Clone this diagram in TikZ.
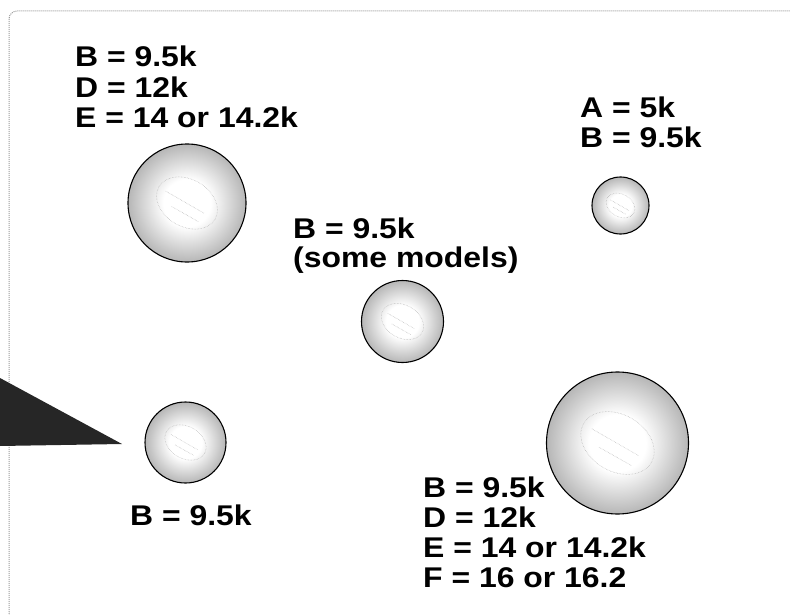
\documentclass[tikz,border=0pt]{standalone}
\usepackage{fontspec}
\setmainfont{Liberation Sans}[FakeStretch=1.12]
\pgfdeclareradialshading{ballshade}{\pgfpoint{0bp}{0bp}}{color(0bp)=(white); color(10bp)=(white); color(30bp)=(black!38); color(50bp)=(black!42)}
\newcommand\ballmarks[2]{%
  \begin{scope}[shift={(#1.center)},scale=#2]
    \draw[marks] (0,0) ellipse[x radius=0.55, y radius=0.4, rotate=-30];
    \draw[marks] (-0.36,-0.2) -- (0.3,0.18);
    \draw[marks] (-0.26,0.06) -- (0.2,0.32);
  \end{scope}}
\begin{document}
\begin{tikzpicture}[x=1pt,y=-1pt,
  ball/.style={circle, draw=black, line width=1.1pt, shading=ballshade, inner sep=0pt},
  marks/.style={densely dotted, draw=black!30, line width=0.5pt},
  lbl/.style={anchor=base west, inner sep=0pt, font=\fontsize{28.5}{30}\selectfont\bfseries}]
\useasboundingbox (0,0) rectangle (790,615);
\begin{scope}
\clip (0,0) rectangle (790,615);
\draw[black!40, densely dotted, line width=1pt, rounded corners=8] (9,11) rectangle (800,621);
\fill[black!85] (0,378) -- (122,444) -- (0,446) -- cycle;
\end{scope}
% circles
\node[ball, minimum size=118pt] (c1) at (187,203) {};
\node[ball, minimum size=57pt] (c2) at (620.5,205.5) {};
\node[ball, minimum size=82pt] (c3) at (402.5,321.5) {};
\node[ball, minimum size=81pt] (c4) at (185.5,442.5) {};
\node[ball, minimum size=142pt] (c5) at (617.5,443) {};
\ballmarks{c1}{59}
\ballmarks{c2}{28}
\ballmarks{c3}{41}
\ballmarks{c4}{40}
\ballmarks{c5}{71}
% labels
\node[lbl] (t1a) at (75,67) {B = 9.5k};
\node[lbl] (t1b) at (75,98) {D = 12k};
\node[lbl] (t1c) at (75,128) {E = 14 or 14.2k};
\node[lbl] (t2a) at (580,118) {A = 5k};
\node[lbl] (t2b) at (580,148) {B = 9.5k};
\node[lbl] (t3a) at (293,238) {B = 9.5k};
\node[lbl] (t3b) at (293,267) {(some models)};
\node[lbl] (t4) at (130,525) {B = 9.5k};
\node[lbl] (t5a) at (423,497) {B = 9.5k};
\node[lbl] (t5b) at (423,527) {D = 12k};
\node[lbl] (t5c) at (423,557) {E = 14 or 14.2k};
\node[lbl] (t5d) at (423,587) {F = 16 or 16.2};
\end{tikzpicture}
\end{document}
